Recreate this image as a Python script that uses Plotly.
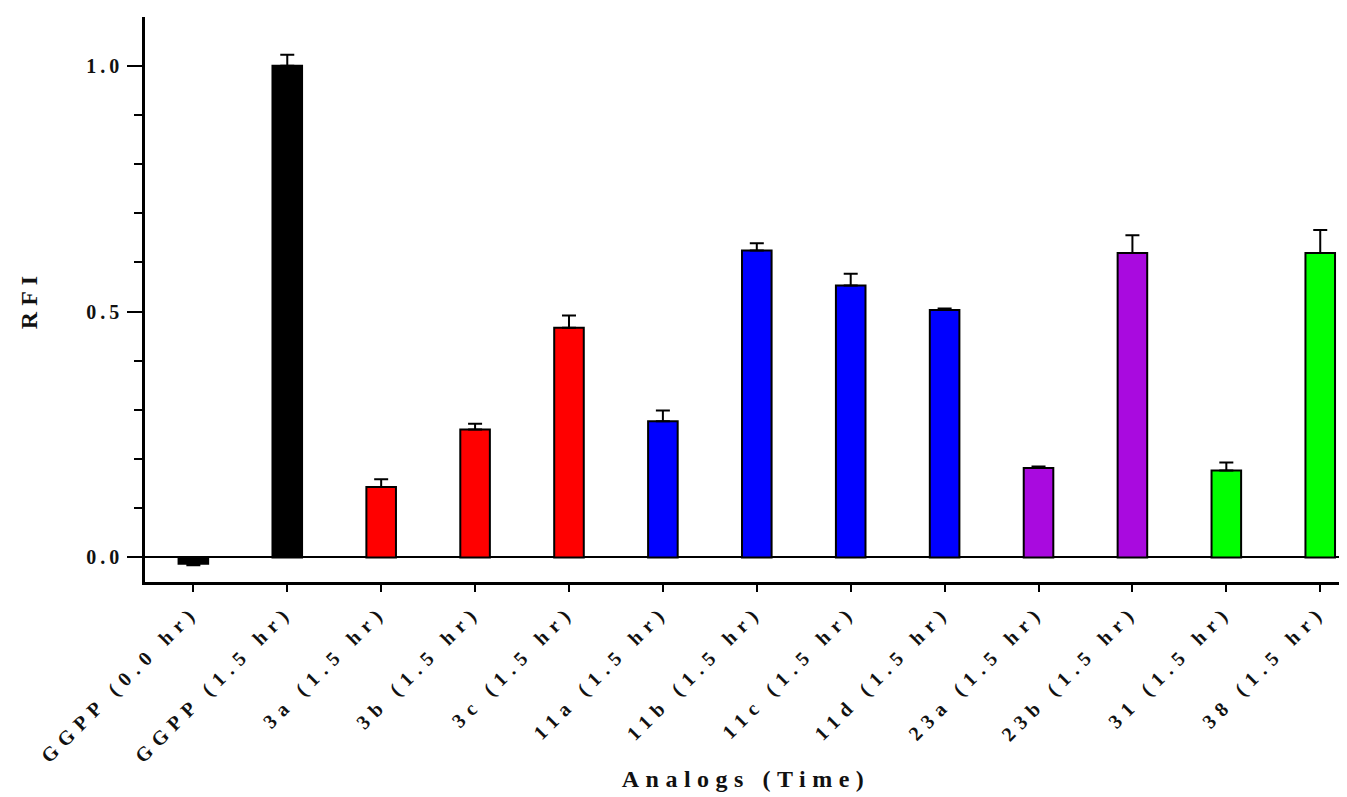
import plotly.graph_objects as go

categories = ["GGPP (0.0 hr)", "GGPP (1.5 hr)", "3a (1.5 hr)", "3b (1.5 hr)", "3c (1.5 hr)",
              "11a (1.5 hr)", "11b (1.5 hr)", "11c (1.5 hr)", "11d (1.5 hr)",
              "23a (1.5 hr)", "23b (1.5 hr)", "31 (1.5 hr)", "38 (1.5 hr)"]
rfi = [-0.013, 1.0, 0.143, 0.26, 0.467, 0.277, 0.624, 0.553, 0.503, 0.182, 0.619, 0.177, 0.619]
err_plus = [0.0, 0.022, 0.016, 0.012, 0.025, 0.022, 0.015, 0.024, 0.003, 0.003, 0.036, 0.016, 0.047]
err_minus = [0.003, 0, 0, 0, 0, 0, 0, 0, 0, 0, 0, 0, 0]
bar_colors = ["#000000", "#000000", "#FF0000", "#FF0000", "#FF0000",
              "#0000FF", "#0000FF", "#0000FF", "#0000FF",
              "#A90ADF", "#A90ADF", "#00FF00", "#00FF00"]
y_tickvals = [0, 0.5, 1.0]
y_ticktext = ["0.0", "0.5", "1.0"]

FONT = "Liberation Serif, Times New Roman, serif"


def spaced(s, px):
    return f'<span style="letter-spacing:{px}px">{s}</span>'


fig = go.Figure()
fig.add_trace(go.Bar(
    x=categories,
    y=rfi,
    width=0.315,
    marker=dict(color=bar_colors, line=dict(color="black", width=2)),
    error_y=dict(type="data", symmetric=False, array=err_plus, arrayminus=err_minus,
                 color="black", thickness=2, width=7),
    showlegend=False,
))

# page body has an 8px margin, so the figure is sized to fit inside the window
fig.update_layout(
    width=1339, height=789,
    margin=dict(l=137, r=0, t=9, b=215),
    paper_bgcolor="white", plot_bgcolor="white",
    font=dict(family=FONT, color="#111111"),
    xaxis=dict(
        type="category",
        range=[-0.515, 12.285],
        tickvals=categories,
        ticktext=[spaced(c, 7) for c in categories],
        tickangle=-45,
        ticks="outside", ticklen=7, tickwidth=2, tickcolor="black",
        tickfont=dict(family=FONT, size=20, weight="bold"),
        showline=True, linecolor="black", linewidth=2.5,
        showgrid=False, zeroline=False,
        title=dict(text=spaced("Analogs (Time)", 6.5),
                   font=dict(family=FONT, size=24, weight="bold"), standoff=4),
        automargin=False,
    ),
    yaxis=dict(
        range=[-0.05, 1.099],
        tickvals=y_tickvals, ticktext=[spaced(t, 4) for t in y_ticktext],
        ticks="outside", ticklen=15, tickwidth=2, tickcolor="black",
        minor=dict(dtick=0.1, tick0=0, ticks="outside", ticklen=8, tickwidth=2, tickcolor="black"),
        tickfont=dict(family=FONT, size=20, weight="bold"),
        showline=True, linecolor="black", linewidth=2.5,
        showgrid=False,
        zeroline=True, zerolinecolor="black", zerolinewidth=1.5,
        title=dict(text=spaced("RFI", 6), font=dict(family=FONT, size=24, weight="bold"), standoff=42),
        automargin=False,
    ),
)

fig.write_html("out.html")
